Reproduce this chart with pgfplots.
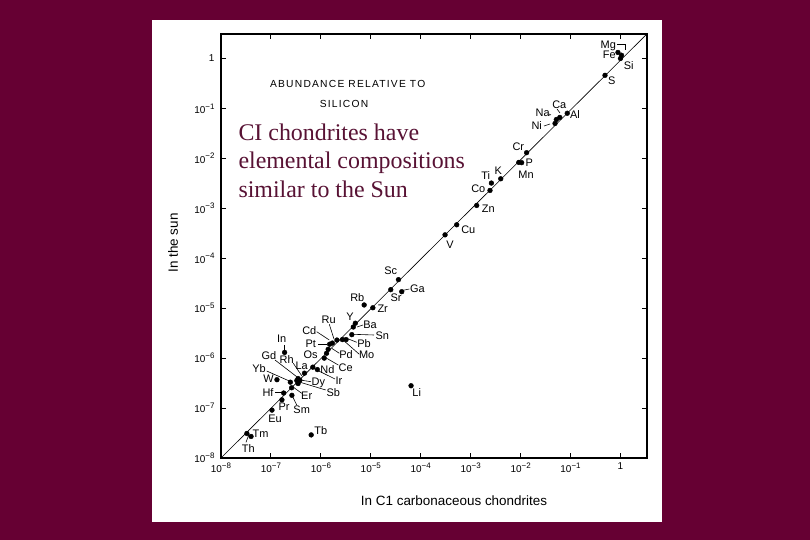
\documentclass[border=0pt]{standalone}
\usepackage{pgfplots}
\usepackage{pgfplotstable}
\pgfplotsset{compat=1.18}
\usepackage{fontspec}
\setmainfont{Liberation Serif}
\setsansfont{Liberation Sans}
\definecolor{bg}{RGB}{102,0,51}
\definecolor{txt}{RGB}{88,18,52}
\newcommand{\supx}[1]{\raisebox{0.42em}{\fontsize{8}{8}\selectfont #1}}
\pgfplotstableread{
x y el
0.89 1.32 Fe
1.05 1.16 Mg
1.0 1.0 Si
0.49 0.46 S
0.086 0.080 Al
0.061 0.066 Ca
0.052 0.060 Na
0.049 0.050 Ni
0.0132 0.0130 Cr
0.0092 0.0083 P
0.0105 0.0082 Mn
0.0040 0.0039 K
0.0026 0.0032 Ti
0.00244 0.00228 Co
0.00132 0.00114 Zn
0.000525 0.000467 Cu
0.000307 0.000294 V
3.58e-5 3.73e-5 Sc
2.51e-5 2.35e-5 Sr
4.17e-5 2.14e-5 Ga
7.36e-6 1.16e-5 Rb
1.10e-5 1.02e-5 Zr
4.9e-6 5.0e-6 Y
4.47e-6 4.2e-6 Ba
4.17e-6 2.95e-6 Sn
3.2e-6 2.35e-6 Pb
2.7e-6 2.35e-6 Mo
2.1e-6 2.3e-6 Ru
1.7e-6 2.0e-6 Cd
1.5e-6 1.9e-6 Pt
1.4e-6 1.5e-6 Pd
1.3e-6 1.25e-6 Os
1.17e-6 1.0e-6 Ce
6.9e-7 6.6e-7 Ir
8.5e-7 5.9e-7 Nd
4.7e-7 5.0e-7 La
3.5e-7 3.9e-7 Rh
3.3e-7 3.55e-7 Gd
3.8e-7 3.6e-7 Dy
3.5e-7 3.1e-7 Sb
2.45e-7 3.3e-7 Yb
1.32e-7 3.7e-7 W
1.8e-7 2.0e-7 Hf
2.6e-7 2.55e-7 Er
2.63e-7 1.8e-7 Sm
1.66e-7 1.46e-7 Pr
1.05e-7 9.1e-8 Eu
4.0e-8 2.7e-8 Tm
3.3e-8 3.1e-8 Th
6.4e-7 2.9e-8 Tb
1.88e-7 1.3e-6 In
6.4e-5 2.8e-7 Li
}\abund
\begin{document}
\begin{tikzpicture}
\fill[bg] (0,0) rectangle (810bp,540bp);
\fill[white] (152bp,18bp) rectangle (662bp,520bp);
\begin{axis}[
  at={(221bp,82bp)}, anchor=south west,
  scale only axis, width=426bp, height=424bp,
  xmode=log, ymode=log,
  xmin=1e-8, xmax=3.4, ymin=1e-8, ymax=3.09,
  xminorticks=false, yminorticks=false,
  axis line style={line width=1.3bp},
  every tick/.style={black, line width=0.9bp},
  major tick length=5.5bp,
  tick align=inside,
  xtick={1e-8,1e-7,1e-6,1e-5,1e-4,1e-3,1e-2,1e-1,1},
  ytick={1e-8,1e-7,1e-6,1e-5,1e-4,1e-3,1e-2,1e-1,1},
  xticklabels={10\supx{−8},10\supx{−7},10\supx{−6},10\supx{−5},10\supx{−4},10\supx{−3},10\supx{−2},10\supx{−1},1},
  yticklabels={10\supx{−8},10\supx{−7},10\supx{−6},10\supx{−5},10\supx{−4},10\supx{−3},10\supx{−2},10\supx{−1},1},
  tick label style={font=\sffamily\fontsize{10}{11}\selectfont},
  xticklabel style={yshift=-1bp},
  yticklabel style={xshift=-3bp},
]
\addplot[black, line width=0.6bp] coordinates {(1e-8,1e-8) (3.37,3.08)};
\addplot[only marks, mark=*, mark size=2.4bp, black] table[x=x,y=y] {\abund};
\end{axis}
\begin{scope}[x=1bp,y=-1bp,yshift=540bp,
  lab/.style={font=\sffamily\fontsize{11}{12}\selectfont, inner sep=0pt},
  ld/.style={line width=0.6bp}]
% title
\node[font=\sffamily\fontsize{10.3}{11}\selectfont\addfontfeatures{LetterSpace=12}, inner sep=0pt] at (347.7,84.3) {ABUNDANCE RELATIVE TO};
\node[font=\sffamily\fontsize{10.3}{11}\selectfont\addfontfeatures{LetterSpace=12}, inner sep=0pt] at (344,104) {SILICON};
% overlay text
\node[anchor=base west, inner sep=0pt, text=txt, font=\rmfamily\fontsize{24}{28}\selectfont] at (238.3,140.7) {CI chondrites have};
\node[anchor=base west, inner sep=0pt, text=txt, font=\rmfamily\fontsize{24}{28}\selectfont] at (238.3,169) {elemental compositions};
\node[anchor=base west, inner sep=0pt, text=txt, font=\rmfamily\fontsize{24}{28}\selectfont] at (238.3,197.3) {similar to the Sun};
% axis labels
\node[rotate=90, font=\sffamily\fontsize{13.5}{14}\selectfont, inner sep=0pt] at (173,243) {In the sun};
\node[font=\sffamily\fontsize{13.5}{14}\selectfont, inner sep=0pt] at (454,500.7) {In C1 carbonaceous chondrites};
% element labels
\node[lab] at (608.3,45.7) {Mg};
\draw[ld] (617,44.5) -- (625,44.5) -- (625,50);
\node[lab] at (609.3,54.3) {Fe};
\node[lab] at (628.7,65.7) {Si};
\node[lab] at (611.7,80.3) {S};
\node[lab] at (559.3,104.3) {Ca};
\draw[ld] (557,109) -- (560,113);
\node[lab] at (542.7,112.3) {Na};
\draw[ld] (549,114) -- (551,115);
\node[lab] at (575,115) {Al};
\node[lab] at (536.7,125.7) {Ni};
\draw[ld] (544,126) -- (550,124);
\node[lab] at (518.3,146.7) {Cr};
\node[lab] at (529.3,162.3) {P};
\node[lab] at (526,175) {Mn};
\node[lab] at (498.3,170.3) {K};
\node[lab] at (485.7,176) {Ti};
\node[lab] at (478.3,188.3) {Co};
\node[lab] at (488.3,209) {Zn};
\node[lab] at (468.3,229.3) {Cu};
\node[lab] at (450,245) {V};
\node[lab] at (390.7,271) {Sc};
\node[lab] at (396,297.7) {Sr};
\node[lab] at (417.5,288.3) {Ga};
\draw[ld] (403.3,290.3) -- (409.3,289);
\node[lab] at (357.3,297.7) {Rb};
\node[lab] at (382.7,308.3) {Zr};
\node[lab] at (350,317) {Y};
\node[lab] at (370,324.3) {Ba};
\draw[ld] (357,327) -- (363,325);
\node[lab] at (382.3,335.7) {Sn};
\draw[ld] (353,334.3) -- (374,335);
\node[lab] at (328.7,319.3) {Ru};
\draw[ld] (329.3,324.3) -- (334,339);
\node[lab] at (309.3,331) {Cd};
\draw[ld] (316.7,331.7) -- (329.3,340);
\node[lab] at (310.7,344) {Pt};
\draw[ld] (318,344) -- (327.3,344);
\node[lab] at (364,343.3) {Pb};
\draw[ld] (356.7,342.3) -- (346.7,338.3);
\node[lab] at (366.7,355) {Mo};
\draw[ld] (359.3,354.3) -- (345,341.7);
\node[lab] at (346,355) {Pd};
\draw[ld] (339.3,353.3) -- (331.7,348.3);
\node[lab] at (310.7,355) {Os};
\node[lab] at (345.7,367.3) {Ce};
\draw[ld] (338.3,365) -- (326.7,358.3);
\node[lab] at (327.5,370) {Nd};
\node[lab] at (339,381) {Ir};
\draw[ld] (335,379) -- (313.3,368.3);
\node[lab] at (301.7,365.7) {La};
\node[lab] at (286.7,360) {Rh};
\draw[ld] (293.3,363.3) -- (301.7,375.7);
\node[lab] at (269,355.7) {Gd};
\draw[ld] (275,360) -- (296.7,376.7);
\node[lab] at (259,368.3) {Yb};
\draw[ld] (266.7,371) -- (289.3,381);
\node[lab] at (268.5,379) {W};
\node[lab] at (318.3,383.3) {Dy};
\draw[ld] (311,381.7) -- (300,380);
\node[lab] at (333.3,392.3) {Sb};
\draw[ld] (325.7,390) -- (298.3,381.7);
\node[lab] at (268,392.7) {Hf};
\draw[ld] (275,392.7) -- (281.7,392.7);
\node[lab] at (306.7,395.7) {Er};
\draw[ld] (301.7,393.3) -- (294,387.7);
\node[lab] at (301.7,410) {Sm};
\draw[ld] (296.7,405) -- (292.7,396.7);
\node[lab] at (284,406.7) {Pr};
\node[lab] at (275,418.3) {Eu};
\node[lab] at (260.5,433.7) {Tm};
\node[lab] at (248.3,448.3) {Th};
\draw[ld] (246,442.3) -- (248.7,435);
\node[lab] at (320.7,431) {Tb};
\node[lab] at (281.7,339) {In};
\draw[ld] (284.3,345) -- (284.3,350);
\node[lab] at (416.7,392.3) {Li};
\end{scope}
\end{tikzpicture}
\end{document}
